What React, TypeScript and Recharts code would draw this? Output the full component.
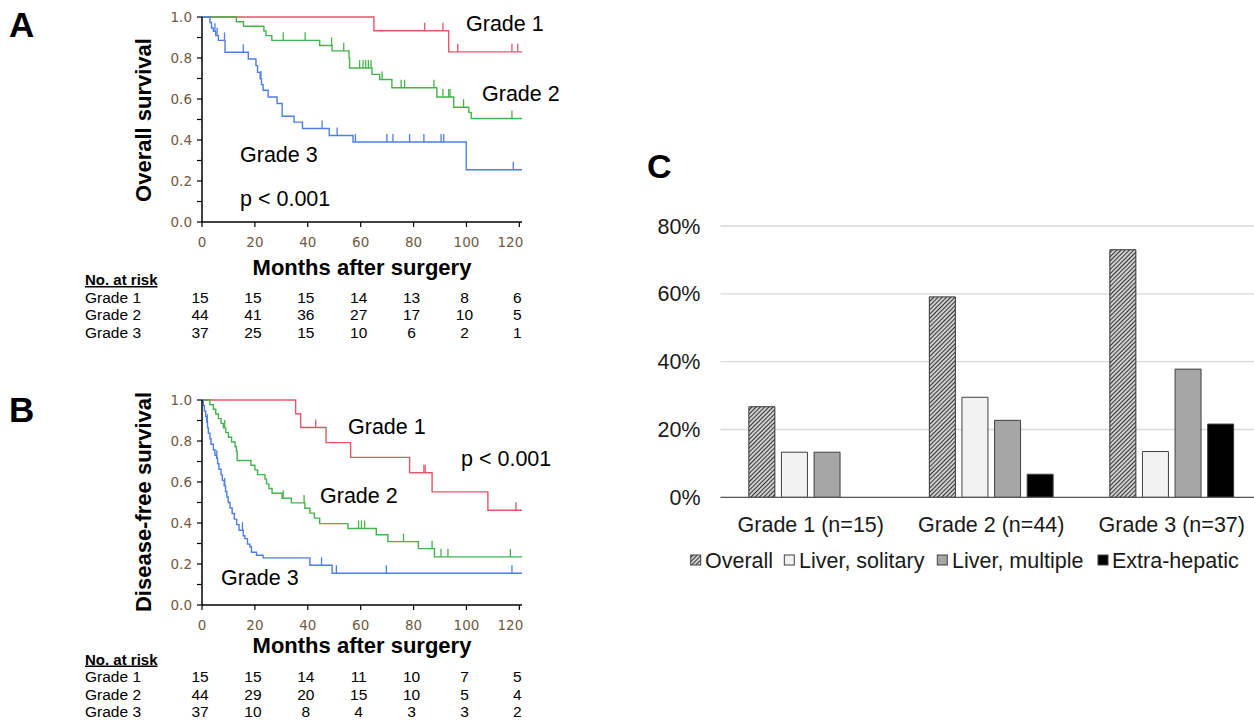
import React from "react";
import { Bar, BarChart, CartesianGrid, ComposedChart, Line, Scatter, XAxis, YAxis } from "recharts";

type Step = [number, number];

const FONT = '"Liberation Sans", Arial, sans-serif';
const TICK_FONT = '"DejaVu Sans", Verdana, sans-serif';

const monthTicks = [0, 20, 40, 60, 80, 100, 120];
const survivalTicks = [0, 0.1, 0.2, 0.3, 0.4, 0.5, 0.6, 0.7, 0.8, 0.9, 1];
const gradeNames = ["Grade 1", "Grade 2", "Grade 3"];
const gradeColors = ["#e4566a", "#45b34b", "#4d7fe4"];

// A - overall survival, [month, survival] at each drop
const osGrade1: Step[] = [[0, 1], [65.0, 0.933], [93.3, 0.83], [121, 0.83]];
const osGrade1Censored = [84.2, 91.1, 96.7, 117.2, 119.4];
const osGrade2: Step[] = [
  [0, 1], [13.0, 0.977], [15.7, 0.955], [23.4, 0.932], [24.2, 0.909], [26.4, 0.886], [44.5, 0.861],
  [49.2, 0.835], [55.6, 0.798], [55.8, 0.751], [64.3, 0.72], [67.2, 0.695], [71.8, 0.655], [88.8, 0.61],
  [95.2, 0.56], [100.9, 0.535], [101.8, 0.505], [121, 0.505]
];
const osGrade2Censored = [30.7, 39.0, 49.0, 53.6, 59.6, 60.9, 61.9, 62.9, 63.9, 68.1, 75.3, 76.6, 87.7, 91.1, 93.3, 93.8, 98.9, 117.2];
const osGrade3: Step[] = [
  [0, 1], [3.0, 0.973], [3.6, 0.946], [4.3, 0.93], [5.2, 0.909], [6.2, 0.886], [8.7, 0.828], [17.5, 0.795],
  [20.4, 0.763], [21.0, 0.73], [22.0, 0.698], [22.5, 0.67], [23.1, 0.643], [25.0, 0.61], [28.4, 0.578],
  [30.3, 0.516], [34.8, 0.487], [38.0, 0.456], [48.1, 0.422], [57.1, 0.39], [99.9, 0.255], [121, 0.255]
];
const osGrade3Censored = [4.9, 5.7, 8.5, 15.6, 22.3, 45.4, 51.1, 58.0, 69.9, 72.2, 78.5, 83.9, 90.4, 91.4, 117.7];

const osAtRiskGrade1 = [15, 15, 15, 14, 13, 8, 6];
const osAtRiskGrade2 = [44, 41, 36, 27, 17, 10, 5];
const osAtRiskGrade3 = [37, 25, 15, 10, 6, 2, 1];

// B - disease-free survival
const dfsGrade1: Step[] = [[0, 1], [35.4, 0.933], [37.3, 0.866], [46.9, 0.792], [56.2, 0.72], [78.5, 0.645], [87.0, 0.552], [108.1, 0.462], [121, 0.462]];
const dfsGrade1Censored = [43.0, 83.9, 84.4, 118.7];
const dfsGrade2: Step[] = [
  [0, 1], [3.0, 0.977], [4.3, 0.955], [5.2, 0.932], [6.2, 0.909], [7.2, 0.886], [8.1, 0.864], [9.0, 0.841],
  [10.0, 0.818], [11.2, 0.795], [12.5, 0.773], [13.0, 0.75], [13.3, 0.705], [18.5, 0.682], [20.0, 0.659],
  [21.0, 0.636], [23.8, 0.614], [24.4, 0.591], [25.3, 0.568], [26.5, 0.545], [30.3, 0.521], [33.8, 0.498],
  [38.9, 0.472], [40.8, 0.448], [42.5, 0.424], [44.5, 0.397], [55.2, 0.373], [65.9, 0.343], [70.3, 0.309],
  [81.8, 0.275], [87.9, 0.235], [121, 0.235]
];
const dfsGrade2Censored = [8.6, 30.7, 38.6, 59.2, 60.3, 61.5, 76.2, 87.0, 90.4, 93.0, 116.6];
const dfsGrade3: Step[] = [
  [0, 1], [0.5, 0.973], [0.9, 0.946], [1.4, 0.919], [1.8, 0.892], [2.1, 0.865], [2.4, 0.838], [3.0, 0.811],
  [3.4, 0.784], [4.3, 0.757], [4.9, 0.73], [5.5, 0.716], [5.9, 0.689], [6.4, 0.662], [7.2, 0.635], [7.7, 0.608],
  [8.4, 0.581], [8.9, 0.554], [9.4, 0.527], [9.9, 0.5], [10.6, 0.473], [11.4, 0.446], [12.2, 0.419],
  [13.1, 0.392], [14.0, 0.365], [15.6, 0.338], [16.2, 0.324], [17.2, 0.297], [18.1, 0.284], [18.7, 0.257],
  [20.6, 0.243], [23.1, 0.23], [40.8, 0.194], [49.2, 0.155], [121, 0.155]
];
const dfsGrade3Censored = [2.0, 5.6, 8.6, 15.3, 45.2, 50.8, 69.7, 117.2];

const dfsAtRiskGrade1 = [15, 15, 14, 11, 10, 7, 5];
const dfsAtRiskGrade2 = [44, 29, 20, 15, 10, 5, 4];
const dfsAtRiskGrade3 = [37, 10, 8, 4, 3, 3, 2];

// C - recurrence pattern by grade (%)
const categories = ["Grade 1 (n=15)", "Grade 2 (n=44)", "Grade 3 (n=37)"];
const overall = [26.7, 59.1, 73.0];
const liverSolitary = [13.3, 29.5, 13.5];
const liverMultiple = [13.3, 22.7, 37.8];
const extraHepatic = [null, 6.8, 21.6];
const percentTicks = [0, 20, 40, 60, 80];

// KM layout
const KM_LEFT = 130;
const KM_W = 400;
const KM_H = 260;
const KM_YAXIS_W = 72;
const KM_RIGHT = 8;
const KM_TOP = 17;
const KM_XAXIS_H = 38;
const MONTH_MAX = 121;
const KM_PLOT_LEFT = KM_LEFT + KM_YAXIS_W;
const KM_PLOT_W = KM_W - KM_YAXIS_W - KM_RIGHT;
const monthX = (m: number) => KM_PLOT_LEFT + (m / MONTH_MAX) * KM_PLOT_W;

const tickColor = "#6e5a44";

function survivalAt(steps: Step[], t: number) {
  let s = 1;
  for (const [time, value] of steps) if (time <= t) s = value;
  return s;
}

const MonthTick = (props: any) => {
  const { x, y, payload } = props;
  const dx = payload.value === 120 ? -9 : 0;
  return (
    <text x={x + dx} y={y} dy="0.71em" textAnchor="middle" fill={tickColor} fontSize={13.5} fontFamily={TICK_FONT}>
      {payload.value}
    </text>
  );
};

const censorShape = (color: string) => (props: any) => (
  <line x1={props.cx} x2={props.cx} y1={props.cy} y2={props.cy - 8} stroke={color} strokeWidth={1.3} />
);

function KMPanel({ top, curves }: { top: number; curves: { steps: Step[]; censored: number[] }[] }) {
  return (
    <div style={{ position: "absolute", left: KM_LEFT, top }}>
      <ComposedChart width={KM_W} height={KM_H} margin={{ top: KM_TOP, right: KM_RIGHT, bottom: 0, left: 0 }}>
        <XAxis
          type="number"
          dataKey="t"
          domain={[0, MONTH_MAX]}
          ticks={monthTicks}
          interval={0}
          allowDataOverflow
          height={KM_XAXIS_H}
          tickSize={5}
          tickMargin={10}
          axisLine={{ stroke: "#000", strokeWidth: 1.5 }}
          tickLine={{ stroke: "#000", strokeWidth: 1.2 }}
          tick={(p: any) => <MonthTick {...p} />}
        />
        <YAxis
          type="number"
          dataKey="s"
          domain={[0, 1]}
          ticks={survivalTicks}
          interval={0}
          width={KM_YAXIS_W}
          tickSize={5}
          tickMargin={5}
          axisLine={{ stroke: "#000", strokeWidth: 1.5 }}
          tickLine={{ stroke: "#000", strokeWidth: 1.2 }}
          tickFormatter={(v: number) => (Math.round(v * 10) % 2 === 0 ? v.toFixed(1) : "")}
          tick={{ fill: tickColor, fontSize: 13.5, fontFamily: TICK_FONT }}
        />
        {curves.map((c, i) => (
          <Line
            key={"line" + i}
            data={c.steps.map(([t, s]) => ({ t, s }))}
            type="stepAfter"
            dataKey="s"
            stroke={gradeColors[i]}
            strokeWidth={1.4}
            dot={false}
            activeDot={false}
            isAnimationActive={false}
          />
        ))}
        {curves.map((c, i) => (
          <Scatter
            key={"cens" + i}
            data={c.censored.map((t) => ({ t, s: survivalAt(c.steps, t) }))}
            dataKey="s"
            shape={censorShape(gradeColors[i])}
            isAnimationActive={false}
          />
        ))}
      </ComposedChart>
    </div>
  );
}

function RiskTable({ headerY, rows }: { headerY: number; rows: number[][] }) {
  return (
    <g fontSize={15.5} fill="#000">
      <text x={85} y={headerY} fontWeight="bold" fontSize={15} textDecoration="underline">No. at risk</text>
      {rows.map((row, i) => {
        const y = headerY + 17.5 * (i + 1);
        return (
          <g key={i}>
            <text x={85} y={y}>{gradeNames[i]}</text>
            {row.map((n, j) => (
              <text key={j} x={monthX(monthTicks[j]) - 2} y={y} textAnchor="middle">{n}</text>
            ))}
          </g>
        );
      })}
    </g>
  );
}

const HatchDef = ({ id }: { id: string }) => (
  <pattern id={id} patternUnits="userSpaceOnUse" width={3} height={3} patternTransform="rotate(45)">
    <rect width={3} height={3} fill="#cfcfcf" />
    <line x1={0} y1={0} x2={0} y2={3} stroke="#222" strokeWidth={1.8} />
  </pattern>
);

const barData = categories.map((name, i) => ({
  name,
  overall: overall[i],
  solitary: liverSolitary[i],
  multiple: liverMultiple[i],
  extra: extraHepatic[i]
}));

const legendItems = [
  { label: "Overall", fill: "url(#hatchLegend)", sq: 690.7, tx: 705 },
  { label: "Liver, solitary", fill: "#f2f2f2", sq: 784.3, tx: 799 },
  { label: "Liver, multiple", fill: "#a6a6a6", sq: 937.3, tx: 952 },
  { label: "Extra-hepatic", fill: "#000", sq: 1098, tx: 1112 }
];

export default function App() {
  return (
    <div style={{ position: "absolute", left: 0, top: 0, width: 1254, height: 721, overflow: "hidden", background: "#fff", fontFamily: FONT }}>
      <KMPanel
        top={0}
        curves={[
          { steps: osGrade1, censored: osGrade1Censored },
          { steps: osGrade2, censored: osGrade2Censored },
          { steps: osGrade3, censored: osGrade3Censored }
        ]}
      />
      <KMPanel
        top={383}
        curves={[
          { steps: dfsGrade1, censored: dfsGrade1Censored },
          { steps: dfsGrade2, censored: dfsGrade2Censored },
          { steps: dfsGrade3, censored: dfsGrade3Censored }
        ]}
      />

      <div style={{ position: "absolute", left: 640, top: 200 }}>
        <BarChart
          width={622}
          height={338}
          data={barData}
          margin={{ top: 26, right: 0, bottom: 0, left: 0 }}
          barCategoryGap={28.35}
          barGap={6.6}
        >
          <defs>
            <HatchDef id="hatch" />
          </defs>
          <CartesianGrid vertical={false} stroke="#d9d9d9" strokeWidth={1.3} />
          <XAxis
            dataKey="name"
            height={40.7}
            interval={0}
            tickLine={false}
            tickSize={0}
            tickMargin={19}
            axisLine={{ stroke: "#595959", strokeWidth: 1.3 }}
            tick={{ fill: "#1a1a1a", fontSize: 21.5, fontFamily: FONT }}
          />
          <YAxis
            domain={[0, 80]}
            ticks={percentTicks}
            interval={0}
            width={80.5}
            axisLine={false}
            tickLine={false}
            tickSize={0}
            tickMargin={20}
            tickFormatter={(v: number) => `${v}%`}
            tick={{ fill: "#1a1a1a", fontSize: 21.5, fontFamily: FONT }}
          />
          <Bar dataKey="overall" fill="url(#hatch)" stroke="#333" strokeWidth={1} isAnimationActive={false} />
          <Bar dataKey="solitary" fill="#f2f2f2" stroke="#404040" strokeWidth={1} isAnimationActive={false} />
          <Bar dataKey="multiple" fill="#a6a6a6" stroke="#404040" strokeWidth={1} isAnimationActive={false} />
          <Bar dataKey="extra" fill="#000" stroke="#404040" strokeWidth={1} isAnimationActive={false} />
        </BarChart>
      </div>

      <svg width={1254} height={721} style={{ position: "absolute", left: 0, top: 0, pointerEvents: "none" }} fontFamily={FONT}>
        <defs>
          <HatchDef id="hatchLegend" />
        </defs>
        <text x={9} y={37} fontSize={35} fontWeight="bold">A</text>
        <text x={9} y={422} fontSize={35} fontWeight="bold">B</text>
        <text x={647} y={178} fontSize={34} fontWeight="bold">C</text>

        {/* panel A texts */}
        <text transform="translate(151,120) rotate(-90)" textAnchor="middle" fontSize={22} fontWeight="bold">Overall survival</text>
        <text x={362} y={275} textAnchor="middle" fontSize={22} fontWeight="bold">Months after surgery</text>
        <g fontSize={21.5}>
          <text x={466} y={31}>Grade 1</text>
          <text x={482} y={101}>Grade 2</text>
          <text x={240} y={162}>Grade 3</text>
          <text x={240} y={206}>p &lt; 0.001</text>
        </g>
        <RiskTable headerY={285} rows={[osAtRiskGrade1, osAtRiskGrade2, osAtRiskGrade3]} />

        {/* panel B texts */}
        <text transform="translate(151,502) rotate(-90)" textAnchor="middle" fontSize={22} fontWeight="bold">Disease-free survival</text>
        <text x={362} y={653} textAnchor="middle" fontSize={22} fontWeight="bold">Months after surgery</text>
        <g fontSize={21.5}>
          <text x={348} y={434}>Grade 1</text>
          <text x={461} y={466}>p &lt; 0.001</text>
          <text x={320} y={503}>Grade 2</text>
          <text x={221} y={585}>Grade 3</text>
        </g>
        <RiskTable headerY={664.5} rows={[dfsAtRiskGrade1, dfsAtRiskGrade2, dfsAtRiskGrade3]} />

        {/* panel C legend */}
        <g fontSize={21.5} fill="#1a1a1a">
          {legendItems.map((it) => (
            <g key={it.label}>
              <rect x={it.sq} y={555} width={10} height={10} fill={it.fill} stroke="#404040" strokeWidth={1} />
              <text x={it.tx} y={568}>{it.label}</text>
            </g>
          ))}
        </g>
      </svg>
    </div>
  );
}
